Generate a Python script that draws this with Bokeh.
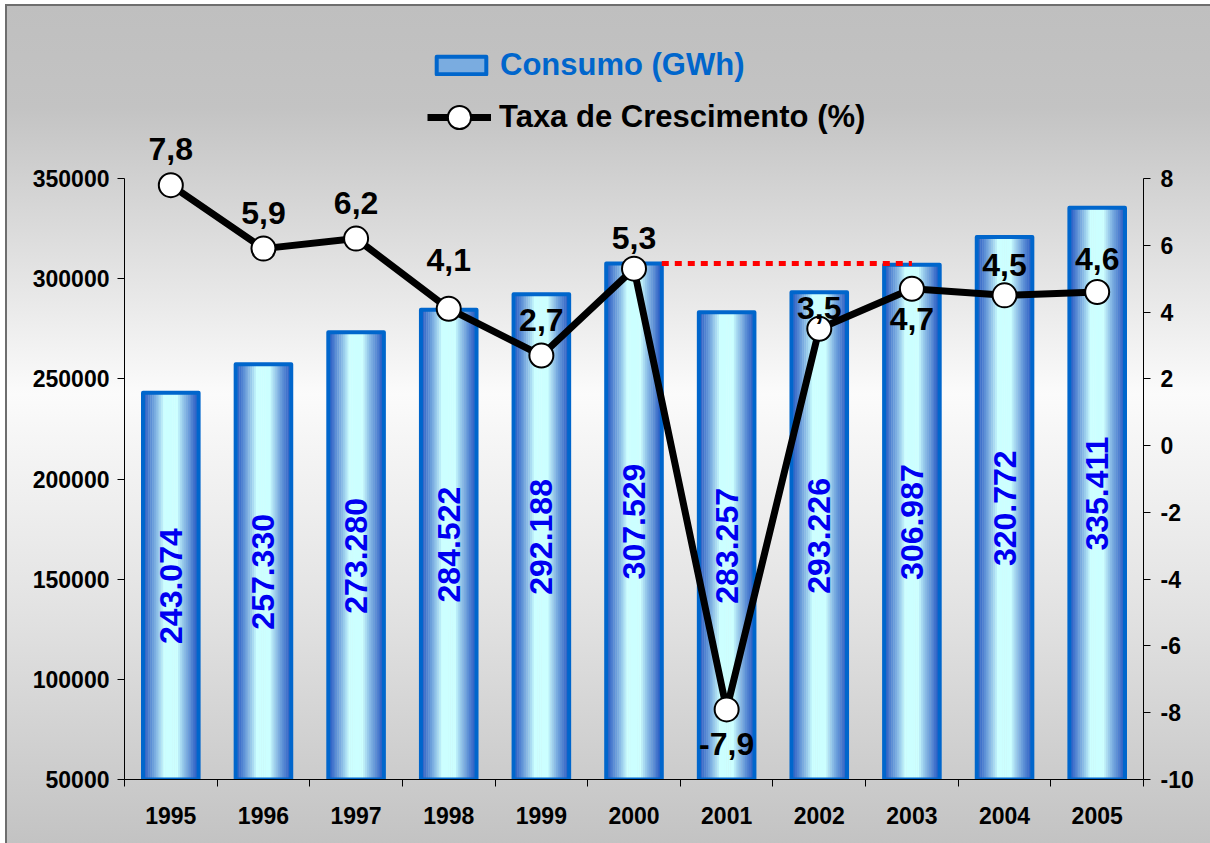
import numpy as np
from bokeh.plotting import figure
from bokeh.models import (Range1d, LinearAxis, FixedTicker, Legend, LegendItem,
                          ColumnDataSource, BasicTickFormatter)
from bokeh.core.properties import value
from bokeh.embed import file_html
from bokeh.resources import INLINE

# ---------------- data ----------------
years = ["1995", "1996", "1997", "1998", "1999", "2000", "2001", "2002", "2003", "2004", "2005"]
consumo = [243074, 257330, 273280, 284522, 292188, 307529, 283257, 293226, 306987, 320772, 335411]
taxa = [7.8, 5.9, 6.2, 4.1, 2.7, 5.3, -7.9, 3.5, 4.7, 4.5, 4.6]
left_ticks = [50000, 100000, 150000, 200000, 250000, 300000, 350000]
right_ticks = [-10, -8, -6, -4, -2, 0, 2, 4, 6, 8]
ref_from, ref_to = "2000", "2003"

# ---------------- style / placement ----------------
FONT_NAME = "Liberation Sans"
FONT = value(FONT_NAME)
BAR_W = 0.6
N_STRIPES = 30
label_dy = [-36, -36, -36, -49, -35, -31, 35, -21, 30, -30, -33]

W, H = 1210, 843
AX_PX = 601          # pixel height of the axis span
TOP_PAD = 160        # extra plotting room above the axis span (legend, labels)

n = len(years)
xc = np.arange(n) + 0.5
y0, y1 = left_ticks[0], left_ticks[-1]
r0, r1 = right_ticks[0], right_ticks[-1]
y1_ext = y1 + (y1 - y0) * TOP_PAD / AX_PX
r1_ext = r1 + (r1 - r0) * TOP_PAD / AX_PX

p = figure(width=W, height=H, x_range=Range1d(0, n), y_range=Range1d(y0, y1_ext),
           output_backend="svg", toolbar_location=None,
           x_axis_type=None, y_axis_type=None,
           min_border_left=124, min_border_right=67,
           min_border_top=178 - TOP_PAD, min_border_bottom=64)
p.extra_y_ranges = {"right": Range1d(r0, r1_ext)}
p.border_fill_alpha = 0
p.background_fill_alpha = 0
p.outline_line_color = None
p.styles = {
    "background":
        "linear-gradient(#6e6e6e,#6e6e6e) 5px 4px / 2px 100% no-repeat,"
        "linear-gradient(#6e6e6e,#6e6e6e) 5px 4px / 100% 2px no-repeat,"
        "linear-gradient(to bottom, #bfbfbf 0%, #c3c3c3 12%, #fbfbfb 46%, #e2e2e2 72%, #c2c2c2 100%) 7px 6px / 100% 100% no-repeat,"
        "#ffffff",
}

# axes
def style_axis(ax):
    ax.axis_line_color = "black"
    ax.axis_line_width = 1
    ax.major_tick_line_color = "black"
    ax.major_tick_in = 0
    ax.major_tick_out = 7
    ax.minor_tick_line_color = None
    ax.major_label_text_font = FONT_NAME
    ax.major_label_text_font_style = "bold"
    ax.major_label_text_font_size = "23px"
    ax.major_label_text_color = "black"

lax = LinearAxis(ticker=FixedTicker(ticks=left_ticks), bounds=(y0, y1),
                 formatter=BasicTickFormatter(use_scientific=False))
style_axis(lax)
lax.major_label_standoff = 8
p.add_layout(lax, "left")

rax = LinearAxis(y_range_name="right", ticker=FixedTicker(ticks=right_ticks), bounds=(r0, r1),
                 major_label_overrides={t: str(t) for t in right_ticks})
style_axis(rax)
rax.major_label_standoff = 10
p.add_layout(rax, "right")

bax = LinearAxis(ticker=FixedTicker(ticks=list(xc), minor_ticks=list(range(n + 1))),
                 major_label_overrides={float(x): y for x, y in zip(xc, years)})
style_axis(bax)
bax.major_tick_line_color = None
bax.minor_tick_line_color = "black"
bax.minor_tick_in = 0
bax.minor_tick_out = 7
bax.major_label_standoff = 20
p.add_layout(bax, "below")

# gradient bars (stripes)
cyan = np.array([204, 255, 255])
edge = np.array([34, 84, 192])
sw = BAR_W / N_STRIPES
stripe_renderers = []
stripe_t = []
for k in range(N_STRIPES):
    off = -BAR_W / 2 + sw * (k + 0.5)
    t = abs(off) / (BAR_W / 2)
    s = min(max((t - 0.25) / 0.75, 0.0), 1.0) ** 0.85
    c = (cyan * (1 - s) + edge * s).astype(int)
    col = "#%02x%02x%02x" % tuple(c)
    r = p.vbar(x=xc + off, width=sw * 1.2, top=consumo, bottom=y0,
               fill_color=col, line_color=None)
    stripe_renderers.append(r)
    stripe_t.append(t)

r_outline = p.vbar(x=xc, width=BAR_W, top=consumo, bottom=y0, fill_alpha=0,
                   line_color="#0066cc", line_width=4, line_join="round")

# bar labels
bar_src = ColumnDataSource(dict(
    x=xc, y=[(v + y0) / 2 for v in consumo],
    t=[f"{v:,}".replace(",", ".") for v in consumo]))
p.text(x="x", y="y", text="t", source=bar_src, angle=np.pi / 2,
       text_align="center", text_baseline="middle", text_font=FONT,
       text_font_style="bold", text_font_size="32px", text_color="#0000f0")

# reference dotted line
i0, i1 = years.index(ref_from), years.index(ref_to)
p.segment(x0=[xc[i0] + BAR_W / 2], y0=[consumo[i0]], x1=[xc[i1]], y1=[consumo[i0]],
          line_color="#ff0000", line_width=5, line_dash="7 6")

# growth line
r_line = p.line(xc, taxa, y_range_name="right", line_color="black", line_width=7)
r_pts = p.scatter(xc, taxa, y_range_name="right", size=24, fill_color="white",
                  line_color="black", line_width=2)

lab_src = ColumnDataSource(dict(
    x=xc, y=taxa, dy=label_dy,
    t=[f"{v:.1f}".replace(".", ",") for v in taxa]))
p.text(x="x", y="y", text="t", y_offset="dy", source=lab_src, y_range_name="right",
       text_align="center", text_baseline="middle", text_font=FONT,
       text_font_style="bold", text_font_size="32px", text_color="black")

# legend swatch: a mid-tone stripe plus the outline
mid_idx = int(np.argmin([abs(t - 0.6) for t in stripe_t]))

def make_legend(label, renderers, loc, gw, gh, color):
    return Legend(items=[LegendItem(label=label, renderers=renderers)],
                  location=loc, glyph_width=gw, glyph_height=gh, label_standoff=8,
                  padding=0, margin=0, border_line_alpha=0, background_fill_alpha=0,
                  label_text_font=FONT_NAME, label_text_font_style="bold",
                  label_text_font_size="31px", label_text_color=color)

p.add_layout(make_legend("Consumo (GWh)", [stripe_renderers[mid_idx], r_outline],
                         (306, 696), 62, 22, "#0066cc"))
p.add_layout(make_legend("Taxa de Crescimento (%)", [r_line, r_pts], (303, 633), 64, 58, "black"))

open("out.html", "w").write(file_html(p, INLINE))
